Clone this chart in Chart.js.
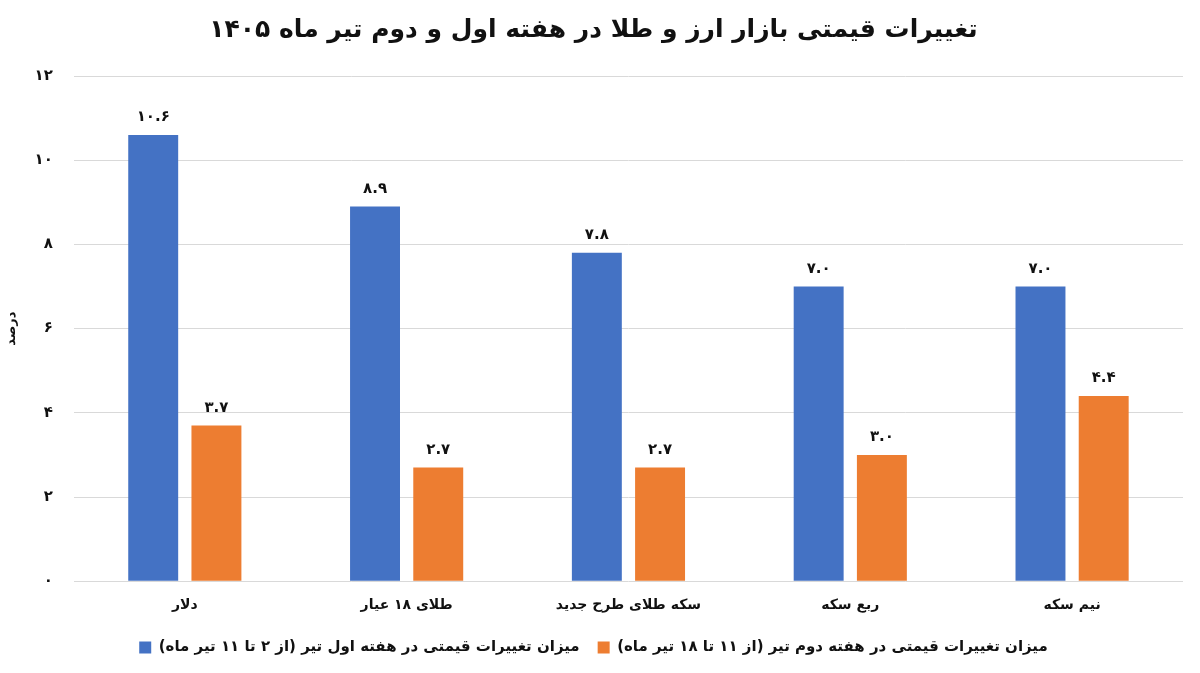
<!DOCTYPE html>
<html><head><meta charset="utf-8">
<script src="https://cdn.jsdelivr.net/npm/chart.js@4.4.1/dist/chart.umd.min.js"></script>
<style>html,body{margin:0;padding:0;background:#fff}#wrap{width:1200px;height:673px}</style>
</head><body><div id="wrap"><canvas id="c" width="1200" height="673"></canvas></div>
<script>
const titleText = 'تغییرات قیمتی بازار ارز و طلا در هفته اول و دوم تیر ماه ۱۴۰۵';
const categories = ['دلار', 'طلای ۱۸ عیار', 'سکه طلای طرح جدید', 'ربع سکه', 'نیم سکه'];
const week1Label = 'میزان تغییرات قیمتی در هفته اول تیر (از ۲ تا ۱۱ تیر ماه)';
const week2Label = 'میزان تغییرات قیمتی در هفته دوم تیر (از ۱۱ تا ۱۸ تیر ماه)';
const week1Values = [10.6, 8.9, 7.8, 7.0, 7.0];
const week2Values = [3.7, 2.7, 2.7, 3.0, 4.4];
const yTickLabels = ['۰', '۲', '۴', '۶', '۸', '۱۰', '۱۲'];
const yTitle = 'درصد';

const faDigits = '۰۱۲۳۴۵۶۷۸۹';
function toFa(s){ return String(s).replace(/[0-9]/g, d => faDigits[+d]); }

const FONT = "'DejaVu Sans', sans-serif";

const valueLabels = {
  id: 'valueLabels',
  afterDatasetsDraw(chart){
    const ctx = chart.ctx;
    ctx.save();
    ctx.font = 'bold 15px ' + FONT;
    ctx.fillStyle = '#111';
    ctx.textAlign = 'center';
    ctx.textBaseline = 'bottom';
    chart.data.datasets.forEach((ds, i) => {
      const meta = chart.getDatasetMeta(i);
      meta.data.forEach((bar, j) => {
        ctx.fillText(toFa(ds.data[j].toFixed(1)), bar.x, bar.y - 10);
      });
    });
    ctx.restore();
  }
};

new Chart(document.getElementById('c'), {
  type: 'bar',
  data: {
    labels: categories,
    datasets: [
      { label: week1Label, data: week1Values, backgroundColor: '#4472C4', categoryPercentage: 0.57, barPercentage: 0.79 },
      { label: week2Label, data: week2Values, backgroundColor: '#ED7D31', categoryPercentage: 0.57, barPercentage: 0.79 }
    ]
  },
  options: {
    responsive: false,
    animation: false,
    devicePixelRatio: 1,
    layout: { padding: { left: 4, right: 17, top: 0, bottom: 8 } },
    plugins: {
      title: {
        display: true, text: titleText, color: '#111',
        font: { family: FONT, size: 25, weight: 'bold' },
        padding: { top: 15, bottom: 31 }
      },
      legend: {
        position: 'bottom',
        textDirection: 'rtl',
        labels: {
          color: '#111', boxWidth: 12, boxHeight: 12, padding: 18,
          font: { family: FONT, size: 15, weight: 'bold' }
        }
      },
      tooltip: { enabled: false }
    },
    scales: {
      x: {
        grid: { display: false },
        border: { display: false },
        ticks: { color: '#111', font: { family: FONT, size: 14, weight: 'bold' }, padding: 8 }
      },
      y: {
        min: 0, max: 12,
        ticks: { stepSize: 2, color: '#111', padding: 21,
          font: { family: FONT, size: 15, weight: 'bold' },
          callback: (v) => yTickLabels[v / 2] },
        grid: { color: '#d9d9d9', drawTicks: false },
        border: { display: false },
        title: { display: true, text: yTitle, color: '#111', font: { family: FONT, size: 13, weight: 'bold' }, padding: { top: 0, bottom: -6 } }
      }
    }
  },
  plugins: [valueLabels]
});
</script></body></html>
